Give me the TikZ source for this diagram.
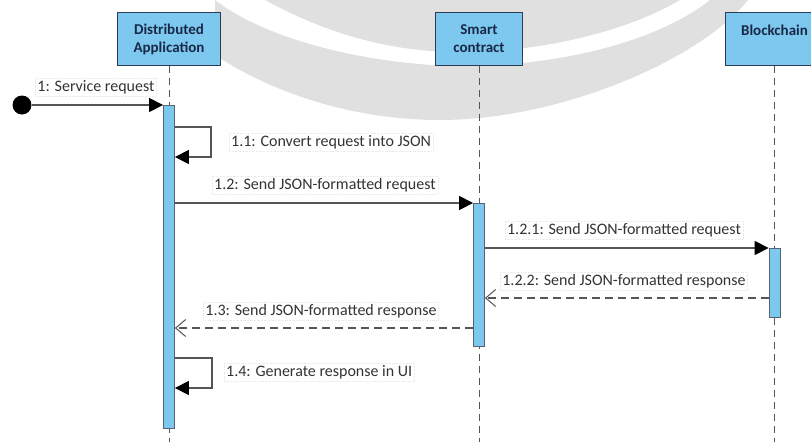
\documentclass[tikz,border=0pt]{standalone}
\usepackage{fontspec}
\setmainfont{Carlito}
\usetikzlibrary{arrows.meta,calc}
\definecolor{boxblue}{RGB}{125,200,238}
\definecolor{boxedge}{RGB}{45,60,80}
\definecolor{txtnavy}{RGB}{25,40,70}
\definecolor{linegray}{RGB}{85,85,85}
\definecolor{wmgray}{RGB}{224,224,224}
\begin{document}
\begin{tikzpicture}[x=1pt,y=-1pt,
  lifebox/.style={draw=boxedge, line width=1pt, fill=boxblue, minimum height=53pt,
    inner sep=0pt, anchor=north west, align=center, text=txtnavy,
    font=\bfseries\fontsize{15}{18}\selectfont},
  actbar/.style={draw=boxedge!80, line width=0.8pt, fill=boxblue, minimum width=11pt,
    inner sep=0pt, anchor=north},
  lifeline/.style={draw=linegray, dash pattern=on 7pt off 5pt, line width=1pt},
  msg/.style={draw=linegray, line width=1.3pt, -{Triangle[length=14pt,width=14pt,color=black]}},
  reply/.style={draw=linegray, line width=1.1pt, dash pattern=on 8pt off 5pt,
    -{Straight Barb[length=10pt,width=17pt,line width=1pt]}},
  lbl/.style={font=\fontsize{16}{18}\selectfont, text=black!80, draw=gray!15, densely dotted,
    inner sep=2pt}
]
\useasboundingbox (0,0) rectangle (811,442);
\clip (0,0) rectangle (811,442);
% watermark
\fill[wmgray] (265,0) .. controls (320,30) and (380,50) .. (450,52)
  .. controls (540,54) and (630,30) .. (680,0) -- cycle;
\fill[wmgray] (215,0) .. controls (260,35) and (350,62) .. (450,66)
  .. controls (560,68) and (660,40) .. (710,0) -- (748,0)
  .. controls (700,60) and (560,120) .. (440,120)
  .. controls (340,120) and (260,85) .. (215,55) -- cycle;
% lifeline heads
\node[lifebox, minimum width=103pt] (da) at (117,12) {Distributed\\Application};
\node[lifebox, minimum width=87pt] (sc) at (435,12) {Smart\\contract};
\node[lifebox, minimum width=98pt] (bc) at (725,12) {Blockchain\\\mbox{}};
\coordinate (bot) at (0,442);
\draw[lifeline] (da.south) -- (da.south |- bot);
\draw[lifeline] (sc.south) -- (sc.south |- bot);
\draw[lifeline] (bc.south) -- (bc.south |- bot);
% activation bars
\node[actbar, minimum height=323pt] (daact) at (da.south |- 0,105) {};
\node[actbar, minimum height=143pt] (scact) at (sc.south |- 0,203) {};
\node[actbar, minimum height=69pt] (bcact) at (bc.south |- 0,248) {};
% 1
\node[circle, fill=black, minimum size=19pt, inner sep=0pt] (start) at (22,105) {};
\draw[msg] (start) -- (daact.north west);
\node[lbl] (l1) at (96,87) {1: Service request};
% 1.1
\coordinate (s11) at ($(daact.north east)+(0,22)$);
\draw[msg] (s11) -- ++(36,0) -- ++(0,30) -- ++(-36,0);
\node[lbl, anchor=west] (l11) at (229,142) {1.1: Convert request into JSON};
% 1.2
\draw[msg] (daact.east |- scact.north) -- (scact.north west);
\node[lbl] (l12) at (325,185) {1.2: Send JSON-formatted request};
% 1.2.1
\draw[msg] (scact.east |- bcact.north) -- (bcact.north west);
\node[lbl] (l121) at (624,230) {1.2.1: Send JSON-formatted request};
% 1.2.2
\coordinate (r122) at ($(bcact.north west)+(0,50)$);
\draw[reply] (r122) -- (scact.east |- r122);
\node[lbl] (l122) at (624,281) {1.2.2: Send JSON-formatted response};
% 1.3
\coordinate (r13) at ($(scact.north west)+(0,125)$);
\draw[reply] (r13) -- (daact.east |- r13);
\node[lbl] (l13) at (321,311) {1.3: Send JSON-formatted response};
% 1.4
\coordinate (s14) at ($(daact.north east)+(0,253)$);
\draw[msg] (s14) -- ++(37,0) -- ++(0,30) -- ++(-37,0);
\node[lbl, anchor=west] (l14) at (224,372) {1.4: Generate response in UI};
\end{tikzpicture}
\end{document}
